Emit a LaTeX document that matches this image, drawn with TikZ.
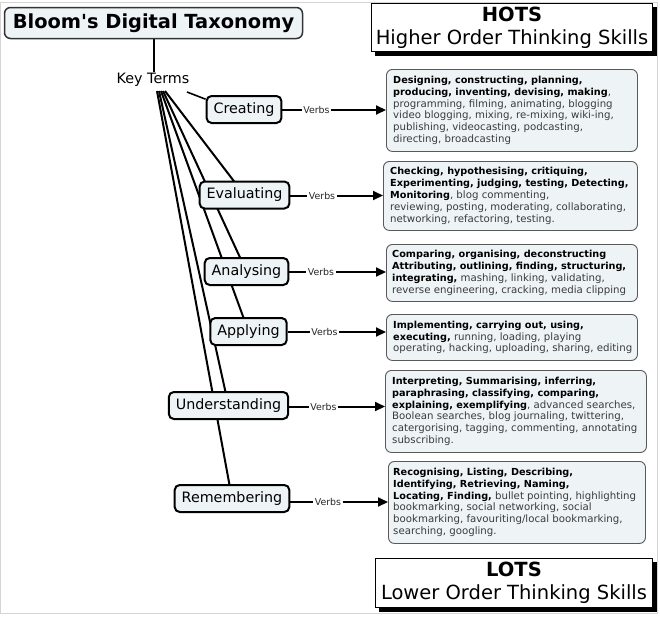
\documentclass[tikz,border=0pt]{standalone}
\usepackage{fontspec}
\setmainfont{DejaVu Sans}
\usetikzlibrary{arrows.meta,backgrounds}
\definecolor{boxfill}{HTML}{EEF4F6}
\definecolor{txtgray}{HTML}{3A3A3A}
\definecolor{framegray}{HTML}{D4D4D4}
\newcommand{\bk}[1]{{\fontsize{9.7}{11.8}\selectfont\bfseries\color{black}#1}}
\begin{document}
\begin{tikzpicture}[x=1pt,y=-1pt,
 labelbox/.style={draw=black, line width=2pt, fill=boxfill, rounded corners=5pt, minimum height=27pt, inner xsep=7pt, font=\fontsize{14.3}{16}\selectfont},
 verbsbox/.style={font=\fontsize{9.4}{11}\selectfont, inner sep=1.5pt, text=black!85},
 listbox/.style={draw=black!65, line width=0.9pt, fill=boxfill, rounded corners=6pt, anchor=north west, inner sep=0pt},
 listtext/.style={anchor=west, align=left, inner sep=0pt, text=txtgray, font=\fontsize{10.2}{11.8}\selectfont},
 tie/.style={line width=2pt},
 verbarrow/.style={line width=2pt, -{Triangle[length=10pt,width=9pt]}},
 shadowbox/.style={draw=black, line width=1pt, fill=white, align=center, inner sep=0pt, font=\fontsize{19.5}{23}\selectfont},
 boxshadow/.style={fill=black}
]
\useasboundingbox (0,0) rectangle (660,616);
\draw[framegray, line width=0.8pt] (0.5,2) rectangle (657,613);

% title and key terms
\node[draw=black!80, line width=1.5pt, fill=boxfill, rounded corners=6pt, minimum width=298pt, minimum height=31pt, inner sep=0pt, font=\bfseries\fontsize{19.4}{22}\selectfont] (title) at (153.5,23) {Bloom\textquotesingle s Digital Taxonomy};
\node[font=\fontsize{14.3}{16}\selectfont, inner sep=1pt] (keyterms) at (153,80) {Key Terms};

% HOTS / LOTS
\node[shadowbox, minimum width=281pt, minimum height=48pt] (hots) at (512,27.5) {\textbf{HOTS}\\Higher Order Thinking Skills};
\node[shadowbox, minimum width=277pt, minimum height=49pt] (lots) at (514,583) {\textbf{LOTS}\\Lower Order Thinking Skills};

% level boxes
\node[labelbox] (creating) at (244,109.5) {Creating};
\node[labelbox] (evaluating) at (244.5,195) {Evaluating};
\node[labelbox] (analysing) at (246.5,271.5) {Analysing};
\node[labelbox] (applying) at (248.5,331.5) {Applying};
\node[labelbox] (understanding) at (228.5,405.5) {Understanding};
\node[labelbox] (remembering) at (232,498.5) {Remembering};

% verbs labels
\node[verbsbox] (v1) at (316.5,110) {Verbs};
\node[verbsbox] (v2) at (322,195.5) {Verbs};
\node[verbsbox] (v3) at (321,272) {Verbs};
\node[verbsbox] (v4) at (324.5,332) {Verbs};
\node[verbsbox] (v5) at (323.5,406.5) {Verbs};
\node[verbsbox] (v6) at (328,502) {Verbs};

% list boxes
\node[listbox, minimum width=251pt, minimum height=82pt] (t1) at (386,69) {};
\node[listbox, minimum width=254pt, minimum height=69pt] (t2) at (383,161) {};
\node[listbox, minimum width=251pt, minimum height=57pt] (t3) at (386,244) {};
\node[listbox, minimum width=251pt, minimum height=46pt] (t4) at (386,314) {};
\node[listbox, minimum width=261pt, minimum height=82pt] (t5) at (385,370) {};
\node[listbox, minimum width=257pt, minimum height=82pt] (t6) at (388,461) {};

\node[listtext] (t1x) at ([xshift=7pt]t1.west) {\bk{Designing, constructing, planning,}\\
\bk{producing, inventing, devising, making},\\
programming, filming, animating, blogging\\
video blogging, mixing, re-mixing, wiki-ing,\\
publishing, videocasting, podcasting,\\
directing, broadcasting};
\node[listtext] (t2x) at ([xshift=7pt]t2.west) {\bk{Checking, hypothesising, critiquing,}\\
\bk{Experimenting, judging, testing, Detecting,}\\
\bk{Monitoring}, blog commenting,\\
reviewing, posting, moderating, collaborating,\\
networking, refactoring, testing.};
\node[listtext] (t3x) at ([xshift=6pt]t3.west) {\bk{Comparing, organising, deconstructing}\\
\bk{Attributing, outlining, finding, structuring,}\\
\bk{integrating,} mashing, linking, validating,\\
reverse engineering, cracking, media clipping};
\node[listtext] (t4x) at ([xshift=7pt]t4.west) {\bk{Implementing, carrying out, using,}\\
\bk{executing,} running, loading, playing\\
operating, hacking, uploading, sharing, editing};
\node[listtext] (t5x) at ([xshift=7pt]t5.west) {\bk{Interpreting, Summarising, inferring,}\\
\bk{paraphrasing, classifying, comparing,}\\
\bk{explaining, exemplifying}, advanced searches,\\
Boolean searches, blog journaling, twittering,\\
catergorising, tagging, commenting, annotating\\
subscribing.};
\node[listtext] (t6x) at ([xshift=5pt]t6.west) {\bk{Recognising, Listing, Describing,}\\
\bk{Identifying, Retrieving, Naming,}\\
\bk{Locating, Finding,} bullet pointing, highlighting\\
bookmarking, social networking, social\\
bookmarking, favouriting/local bookmarking,\\
searching, googling.};

% fan start points
\coordinate (fc) at (187,92);
\coordinate (f2) at (165,91);
\coordinate (f3) at (163,91);
\coordinate (f4) at (161,91);
\coordinate (f5) at (159,91);
\coordinate (f6) at (157,91);

\begin{pgfonlayer}{background}
\fill[boxshadow] ([shift={(4pt,-4pt)}]hots.south west) rectangle ([shift={(4pt,-4pt)}]hots.north east);
\fill[boxshadow] ([shift={(4pt,-4pt)}]lots.south west) rectangle ([shift={(4pt,-4pt)}]lots.north east);
\draw[tie] (title.south) -- (title.south |- keyterms.north);
\draw[line width=1.6pt] (fc) -- (creating.165);
\draw[tie] (f2) -- (evaluating.center);
\draw[tie] (f3) -- (analysing.center);
\draw[tie] (f4) -- (applying.center);
\draw[tie] (f5) -- (understanding.center);
\draw[tie] (f6) -- (remembering.center);
\end{pgfonlayer}

% verbs connectors
\foreach \b/\v/\t in {creating/v1/t1, evaluating/v2/t2, analysing/v3/t3, applying/v4/t4, understanding/v5/t5, remembering/v6/t6}{
  \draw[tie] (\b.east |- \v.west) -- (\v.west);
  \draw[verbarrow] (\v.east) -- (\v.east -| \t.west);
}
\end{tikzpicture}
\end{document}
